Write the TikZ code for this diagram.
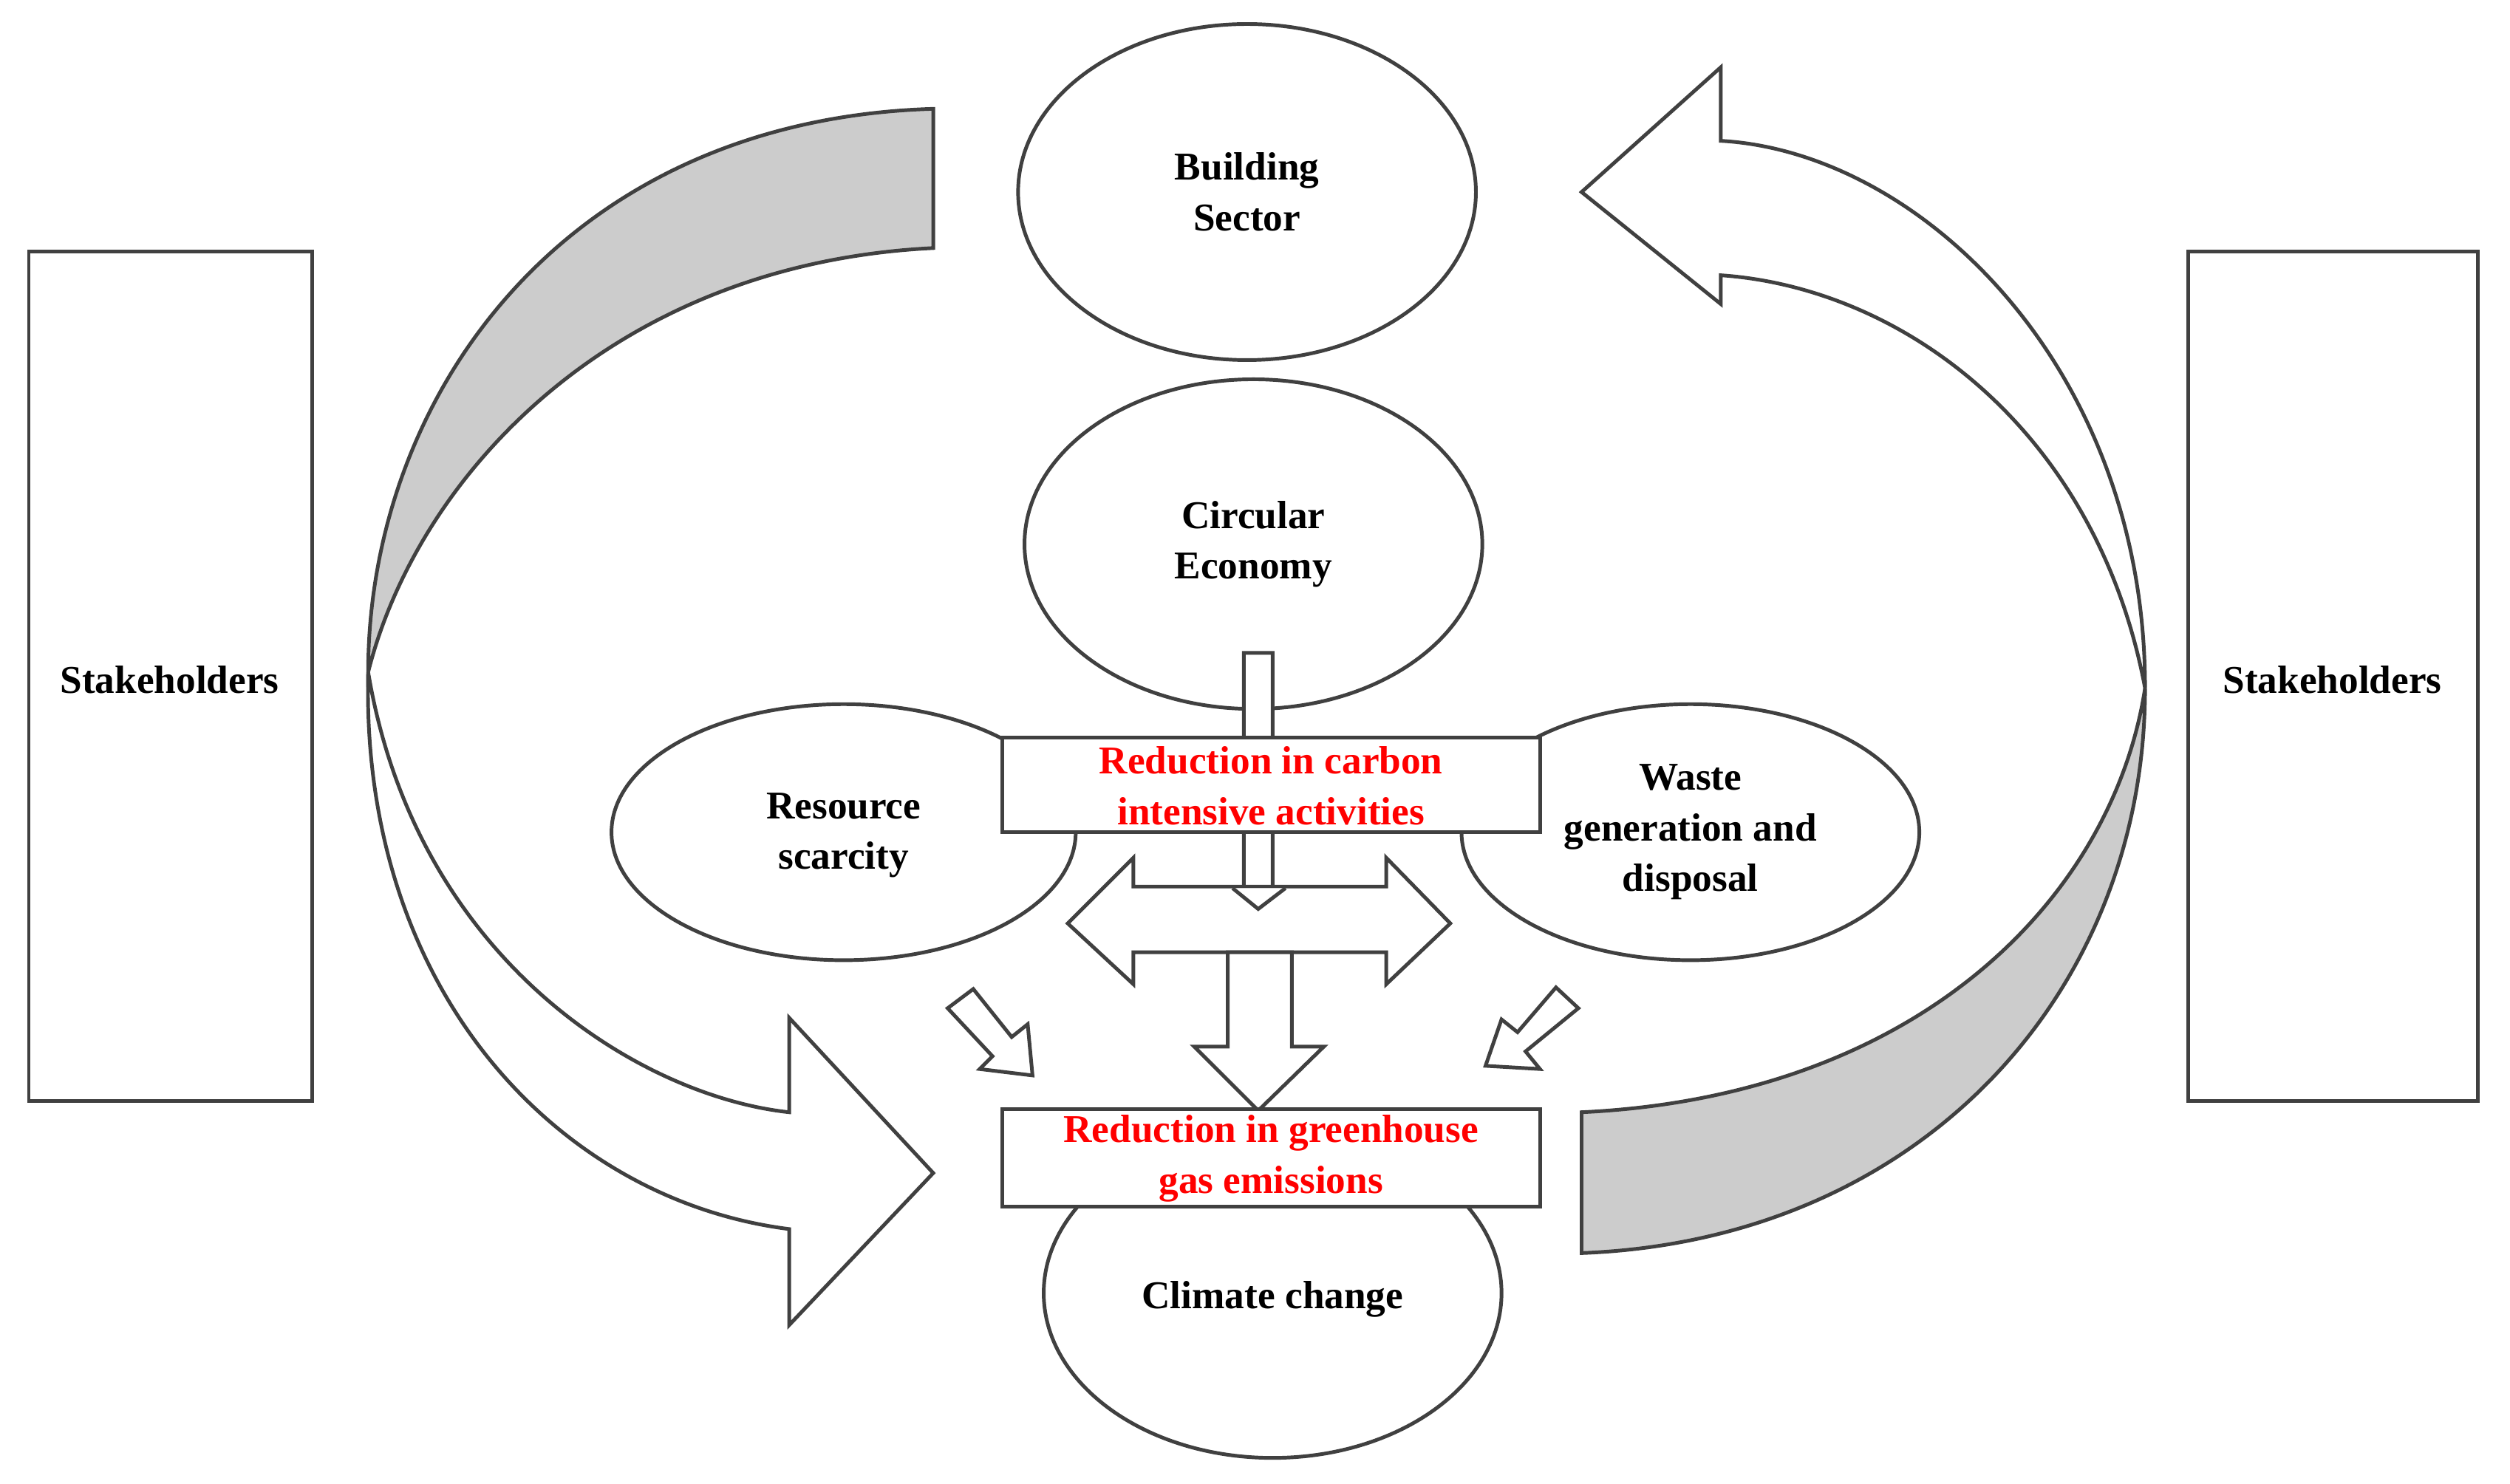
\documentclass[tikz,border=0pt]{standalone}
\usepackage{fontspec}
\setmainfont{Liberation Serif}
\begin{document}
\begin{tikzpicture}[x=0.02cm,y=-0.02cm,
  ln/.style={draw=black!75,line width=1.3pt,line join=miter},
  el/.style={ln,ellipse,fill=white},
  lab/.style={font=\fontsize{14}{18}\selectfont\bfseries,align=center},
  red/.style={lab,text=red},
  box/.style={ln,fill=white}]
\useasboundingbox (0,0) rectangle (1568,927);
% stakeholders
\draw[box] (18,157) rectangle (195,688);
\node[lab] (sl) at (106,425) {Stakeholders};
\draw[box] (1367,157) rectangle (1548,688);
\node[lab] (sr) at (1457,425) {Stakeholders};
% ellipses
\draw[ln,fill=white] (779,120) ellipse [x radius=143,y radius=105];
\node[lab] (bs) at (779,120) {Building\\Sector};
\draw[ln,fill=white] (783,340) ellipse [x radius=143,y radius=103];
\node[lab] (ce) at (783,340) {Circular\\Economy};
\draw[ln,fill=white] (527,520) ellipse [x radius=145,y radius=80];
\node[lab] (rs) at (527,522) {Resource\\scarcity};
\draw[ln,fill=white] (1056,520) ellipse [x radius=143,y radius=80];
\node[lab] (wg) at (1056,520) {Waste\\generation and\\disposal};
\draw[ln,fill=white] (795,808) ellipse [x radius=143,y radius=103];
\node[lab] (cc) at (795,812) {Climate change};
% left curved arrows
\draw[ln,fill=black!20] (583,68) .. controls (350,75) and (230,250) .. (230,420)
  .. controls (260,300) and (380,165) .. (583,155) -- cycle;
\draw[ln,fill=white] (230,420) .. controls (225,620) and (350,750) .. (493,768)
  -- (493,828) -- (583,733) -- (493,636) -- (493,695)
  .. controls (400,685) and (260,600) .. (230,420) -- cycle;
% right curved arrows
\draw[ln,fill=black!20] (988,783) .. controls (1200,775) and (1340,620) .. (1340,430)
  .. controls (1320,560) and (1200,685) .. (988,695) -- cycle;
\draw[ln,fill=white] (1340,430) .. controls (1340,230) and (1200,95) .. (1075,88)
  -- (1075,42) -- (988,120) -- (1075,190) -- (1075,172)
  .. controls (1190,180) and (1310,270) .. (1340,430) -- cycle;
% thin down arrow
\draw[ln,fill=white] (777,408) -- (795,408) -- (795,555) -- (803,555) -- (786,568) -- (770,555) -- (777,555) -- cycle;
% box 1
\draw[box] (626,461) rectangle (962,520);
\node[red] (b1) at (794,491) {Reduction in carbon\\intensive activities};
% double horizontal arrow
\draw[ln,fill=white] (667,577) -- (708,536) -- (708,554) -- (866,554) -- (866,536) -- (906,577)
  -- (866,615) -- (866,595) -- (708,595) -- (708,615) -- cycle;
\draw[ln,fill=white] (770,555) -- (786,568) -- (803,555);
% big down arrow
\draw[ln,fill=white] (767,595) -- (807,595) -- (807,654) -- (827,654) -- (786,694) -- (746,654) -- (767,654) -- cycle;
% small diagonal arrows
\draw[ln,fill=white] (592,630) -- (608,618) -- (632,648) -- (642,640) -- (645,672) -- (612,668) -- (620,660) -- cycle;
\draw[ln,fill=white] (986,630) -- (972,617) -- (948,645) -- (938,637) -- (928,666) -- (962,668) -- (953,657) -- cycle;
% box 2
\draw[box] (626,693) rectangle (962,754);
\node[red] (b2) at (794,724) {Reduction in greenhouse\\gas emissions};
\end{tikzpicture}
\end{document}
